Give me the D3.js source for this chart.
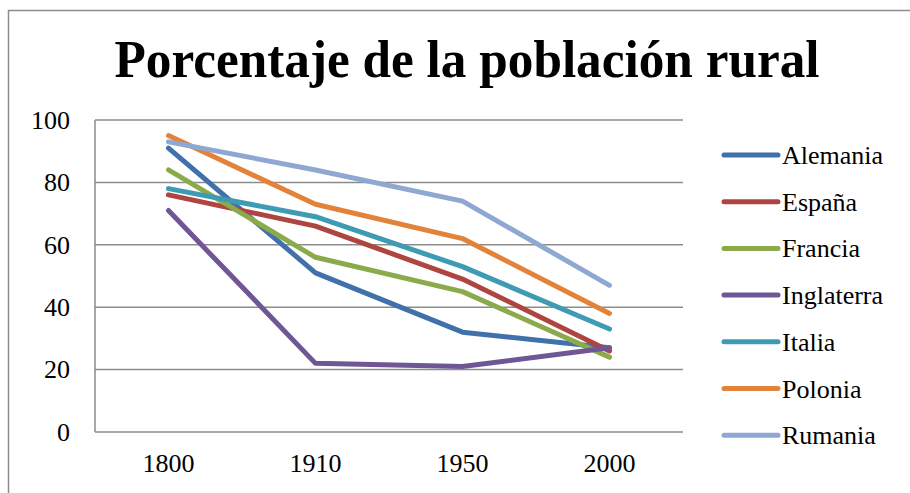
<!DOCTYPE html>
<html>
<head>
<meta charset="utf-8">
<script src="https://d3js.org/d3.v7.min.js"></script>
<style>
	body { margin: 0; background: #fff; }
	svg { display: block; font-family: "Liberation Serif", "DejaVu Serif", serif; }
</style>
</head>
<body>
<div id="chart"></div>
<script>
	var years = ["1800", "1910", "1950", "2000"];
	var yTicks = [0, 20, 40, 60, 80, 100];
	var names = ["Alemania", "España", "Francia", "Inglaterra", "Italia", "Polonia", "Rumania"];
	var colors = ["#4171AA", "#AE4541", "#8AAA4B", "#6F5694", "#3F9BB4", "#E3833A", "#8EA8D1"];
	var alemania   = [91, 51, 32, 27];
	var espana     = [76, 66, 49, 26];
	var francia    = [84, 56, 45, 24];
	var inglaterra = [71, 22, 21, 27];
	var italia     = [78, 69, 53, 33];
	var polonia    = [95, 73, 62, 38];
	var rumania    = [93, 84, 74, 47];
	var series = [alemania, espana, francia, inglaterra, italia, polonia, rumania];

	var width = 910, height = 493;
	var plotL = 95, plotR = 683, plotT = 120, plotB = 432;

	var svg = d3.select("#chart").append("svg")
		.attr("width", width)
		.attr("height", height);

	// chart border
	svg.append("rect")
		.attr("x", 8.5).attr("y", 10.5)
		.attr("width", 960).attr("height", 560)
		.attr("fill", "none")
		.attr("stroke", "#8c8c8c")
		.attr("stroke-width", 1.5);

	svg.append("text")
		.attr("x", 467).attr("y", 77)
		.attr("text-anchor", "middle")
		.attr("font-weight", "bold")
		.attr("font-size", 52)
		.attr("textLength", 705)
		.attr("lengthAdjust", "spacingAndGlyphs")
		.text("Porcentaje de la población rural");

	var x = d3.scaleBand().domain(years).range([plotL, plotR]);
	var y = d3.scaleLinear().domain([0, 100]).range([plotB, plotT]);

	// gridlines
	svg.selectAll(".grid")
		.data(yTicks)
		.enter()
		.append("line")
		.attr("x1", plotL).attr("x2", plotR)
		.attr("y1", function(d){ return y(d); })
		.attr("y2", function(d){ return y(d); })
		.attr("stroke", "#8c8c8c")
		.attr("stroke-width", 1.5);

	svg.append("line")
		.attr("x1", plotL).attr("x2", plotL)
		.attr("y1", plotT).attr("y2", plotB)
		.attr("stroke", "#8c8c8c")
		.attr("stroke-width", 1.5);

	var yAxis = svg.append("g")
		.attr("transform", "translate(" + plotL + ",0)")
		.call(d3.axisLeft(y).tickValues(yTicks).tickSize(0).tickPadding(25));
	yAxis.select(".domain").remove();
	yAxis.selectAll("text")
		.attr("font-family", "Liberation Serif, serif")
		.attr("font-size", 26)
		.attr("fill", "#000");

	var xAxis = svg.append("g")
		.attr("transform", "translate(0," + plotB + ")")
		.call(d3.axisBottom(x).tickSize(0).tickPadding(22));
	xAxis.select(".domain").remove();
	xAxis.selectAll("text")
		.attr("font-family", "Liberation Serif, serif")
		.attr("font-size", 26)
		.attr("fill", "#000");

	var line = d3.line()
		.x(function(d, i){ return x(years[i]) + x.bandwidth() / 2; })
		.y(function(d){ return y(d); });

	svg.selectAll(".serie")
		.data(series)
		.enter()
		.append("path")
		.attr("d", line)
		.attr("fill", "none")
		.attr("stroke", function(d, i){ return colors[i]; })
		.attr("stroke-width", 5)
		.attr("stroke-linecap", "round")
		.attr("stroke-linejoin", "round");

	// legend
	var legend = svg.selectAll(".legend")
		.data(names)
		.enter()
		.append("g")
		.attr("transform", function(d, i){ return "translate(724," + (155 + i * 46.7) + ")"; });
	legend.append("line")
		.attr("x1", 0).attr("x2", 54)
		.attr("stroke", function(d, i){ return colors[i]; })
		.attr("stroke-width", 5)
		.attr("stroke-linecap", "round");
	legend.append("text")
		.attr("x", 58).attr("y", 9)
		.attr("font-size", 26)
		.text(function(d){ return d; });
</script>
</body>
</html>
